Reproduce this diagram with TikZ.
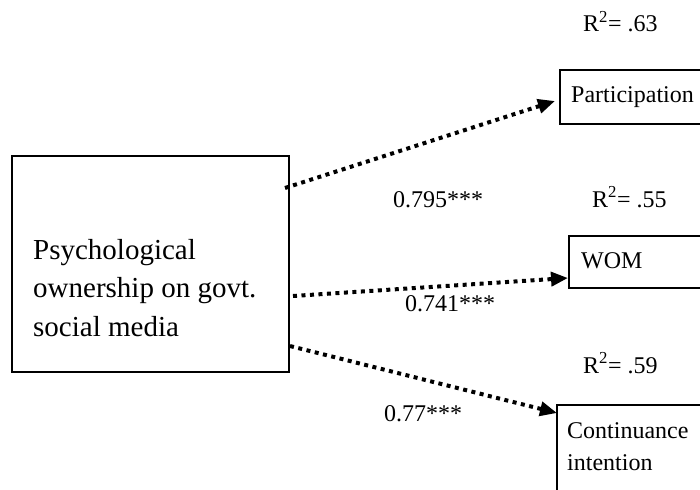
\documentclass[tikz,border=0pt]{standalone}
\usepackage{fontspec}
\setmainfont{Liberation Serif}
\usetikzlibrary{arrows.meta}
\tikzset{
  boxline/.style={draw=black, line width=1.5pt},
  lbl/.style={anchor=base west, inner sep=0pt, font=\fontsize{24}{32}\selectfont},
  pathline/.style={line width=4pt, dash pattern=on 4pt off 4.5pt,
     -{Triangle[length=17pt,width=14pt]}}
}
\begin{document}
\begin{tikzpicture}[x=1pt,y=-1pt]
\useasboundingbox (0,0) rectangle (700,489);
\clip (0,0) rectangle (700,489);
% boxes
\draw[boxline] (12,156) rectangle (289,372);
\node[lbl, font=\fontsize{29}{38.5}\selectfont, align=left, anchor=base west] (po) at (33,336)
  {Psychological\\ownership on govt.\\social media};
\draw[boxline] (560,70) rectangle (710,124);
\node[lbl] (part) at (571,103) {Participation};
\draw[boxline] (569,236) rectangle (710,288);
\node[lbl] (wom) at (581,268) {WOM};
\draw[boxline] (557,405) rectangle (710,500);
\node[lbl, align=left] (ci) at (567,470) {Continuance\\intention};
% R2 labels
\node[lbl] (r1) at (583,32) {R\textsuperscript{2}= .63};
\node[lbl] (r2) at (592,207) {R\textsuperscript{2}= .55};
\node[lbl] (r3) at (583,373) {R\textsuperscript{2}= .59};
% connector end points
\coordinate (s1) at (285,188);
\coordinate (e1) at (555,101);
\coordinate (s2) at (293,296);
\coordinate (e2) at (568,278);
\coordinate (s3) at (290,346);
\coordinate (e3) at (557,413);
\draw[pathline] (s1) -- (e1);
\draw[pathline] (s2) -- (e2);
\draw[pathline] (s3) -- (e3);
% path coefficients
\node[lbl] (c1) at (393,207) {0.795***};
\node[lbl] (c2) at (405,311) {0.741***};
\node[lbl] (c3) at (384,421) {0.77***};
\end{tikzpicture}
\end{document}
